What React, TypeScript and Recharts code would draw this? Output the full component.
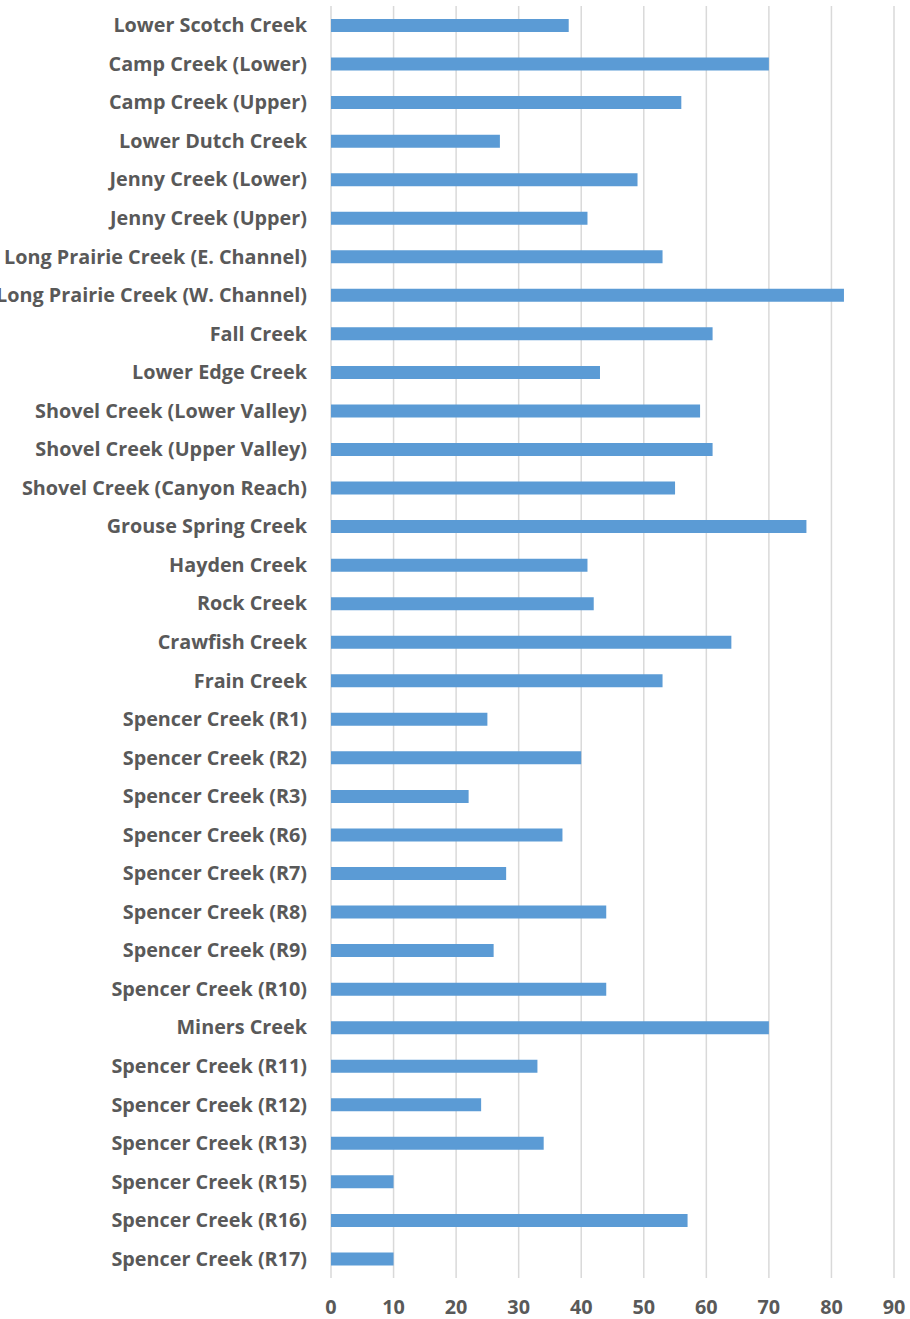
import React from 'react';
import { BarChart, Bar, XAxis, YAxis, CartesianGrid } from 'recharts';

const sites = [
  'Lower Scotch Creek',
  'Camp Creek (Lower)',
  'Camp Creek (Upper)',
  'Lower Dutch Creek',
  'Jenny Creek (Lower)',
  'Jenny Creek (Upper)',
  'Long Prairie Creek (E. Channel)',
  'Long Prairie Creek (W. Channel)',
  'Fall Creek',
  'Lower Edge Creek',
  'Shovel Creek (Lower Valley)',
  'Shovel Creek (Upper Valley)',
  'Shovel Creek (Canyon Reach)',
  'Grouse Spring Creek',
  'Hayden Creek',
  'Rock Creek',
  'Crawfish Creek',
  'Frain Creek',
  'Spencer Creek (R1)',
  'Spencer Creek (R2)',
  'Spencer Creek (R3)',
  'Spencer Creek (R6)',
  'Spencer Creek (R7)',
  'Spencer Creek (R8)',
  'Spencer Creek (R9)',
  'Spencer Creek (R10)',
  'Miners Creek',
  'Spencer Creek (R11)',
  'Spencer Creek (R12)',
  'Spencer Creek (R13)',
  'Spencer Creek (R15)',
  'Spencer Creek (R16)',
  'Spencer Creek (R17)',
];

const values = [
  38, 70, 56, 27, 49, 41, 53, 82, 61, 43, 59, 61, 55, 76, 41, 42, 64,
  53, 25, 40, 22, 37, 28, 44, 26, 44, 70, 33, 24, 34, 10, 57, 10,
];

const xTicks = [0, 10, 20, 30, 40, 50, 60, 70, 80, 90];

const data = sites.map((name, i) => ({ name, value: values[i] }));

const labelStyle = {
  fontFamily: '"Open Sans", sans-serif',
  fontWeight: 700,
  fontSize: 19.8,
  fill: '#595959',
};

export default function App() {
  return (
    <div style={{ position: 'absolute', left: 0, top: 0 }}>
      <BarChart
        width={910}
        height={1319}
        data={data}
        layout="vertical"
        margin={{ top: 6, right: 16, bottom: 0, left: 0 }}
        barSize={13}
      >
        <CartesianGrid horizontal={false} stroke="#d9d9d9" strokeWidth={1.5} />
        <XAxis
          type="number"
          domain={[0, 90]}
          ticks={xTicks}
          axisLine={false}
          tickLine={false}
          tickSize={0}
          tickMargin={22}
          height={41}
          tick={labelStyle}
          interval={0}
        />
        <YAxis
          type="category"
          dataKey="name"
          width={331}
          axisLine={false}
          tickLine={false}
          tickSize={0}
          tickMargin={24}
          tick={labelStyle}
          interval={0}
        />
        <Bar dataKey="value" fill="#5b9bd5" isAnimationActive={false} />
      </BarChart>
    </div>
  );
}
